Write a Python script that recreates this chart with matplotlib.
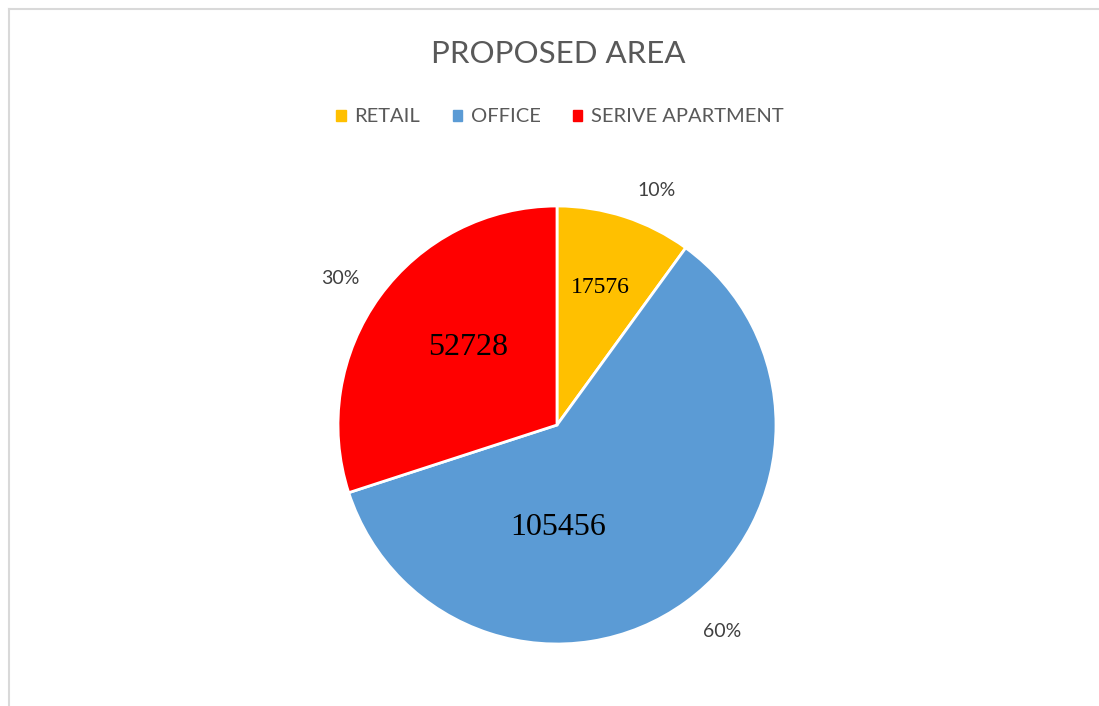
import matplotlib.pyplot as plt
from matplotlib.lines import Line2D

labels = ["RETAIL", "OFFICE", "SERIVE APARTMENT"]
areas = [17576, 105456, 52728]
colors = ["#FFC000", "#5B9BD5", "#FF0000"]

W, H = 1099, 706
fig = plt.figure(figsize=(W / 100, H / 100), dpi=100)
plt.rcParams["font.family"] = ["Lato", "DejaVu Sans"]

# chart frame (only top and left edges fall inside the image)
fig.add_artist(Line2D([8.5 / W, 8.5 / W], [0, 1 - 8.5 / H], color="#d9d9d9", lw=1.5))
fig.add_artist(Line2D([8.5 / W, 1], [1 - 8.5 / H, 1 - 8.5 / H], color="#d9d9d9", lw=1.5))

cx, cy, r = 557, 425, 219
ax = fig.add_axes([(cx - r) / W, (H - cy - r) / H, 2 * r / W, 2 * r / H])
wedges, _ = ax.pie(areas, colors=colors, startangle=90, counterclock=False,
                   radius=1, wedgeprops=dict(edgecolor="white", linewidth=2))
ax.set_xlim(-1, 1)
ax.set_ylim(-1, 1)
ax.set_aspect("equal")
ax.axis("off")

total = sum(areas)
pct = [v / total * 100 for v in areas]

# value labels inside wedges
value_pos = [(0.196, 0.626), (0.005, -0.466), (-0.406, 0.352)]
value_size = [17, 23, 23]
for v, (x, y), s in zip(areas, value_pos, value_size):
    ax.text(x, y, f"{v}", ha="center", va="center", fontsize=s,
            family="Liberation Serif", color="black")

# percentage labels outside
pct_pos = [(0.457, 1.073), (0.753, -0.945), (-0.991, 0.671)]
for p, (x, y) in zip(pct, pct_pos):
    ax.text(x, y, f"{p:.0f}%", ha="center", va="center", fontsize=14,
            color="#404040", clip_on=False)

fig.text(558 / W, 1 - 54 / H, "PROPOSED AREA", ha="center", va="center",
         fontsize=22.5, color="#595959")

handles = [plt.Rectangle((0, 0), 1, 1, color=c) for c in colors]
fig.legend(handles, labels, loc="center", bbox_to_anchor=(560 / W, 1 - 117 / H),
           ncol=3, frameon=False, fontsize=14.5, handlelength=0.45, handleheight=0.45,
           handletextpad=0.45, columnspacing=1.6, labelcolor="#595959")

fig.savefig("out.png", dpi=100)
